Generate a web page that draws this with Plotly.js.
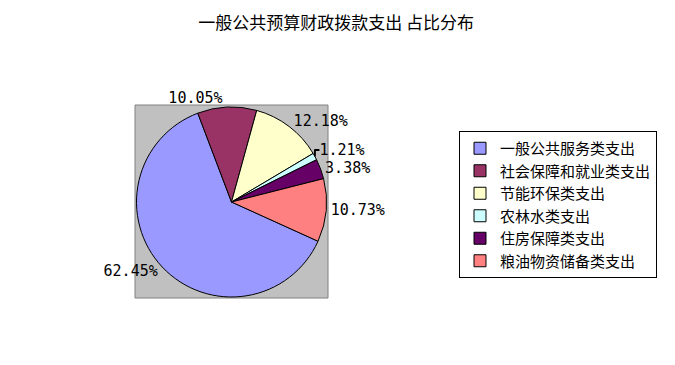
<!DOCTYPE html>
<html>
<head>
<meta charset="utf-8">
<script src="https://cdn.plot.ly/plotly-3.0.1.min.js"></script>
<style>html,body{margin:0;padding:0;background:#fff;}</style>
</head>
<body>
<div id="chart" style="width:675px;height:365px;"></div>
<script>
var categories = ["一般公共服务类支出", "社会保障和就业类支出", "节能环保类支出", "农林水类支出", "住房保障类支出", "粮油物资储备类支出"];
var shares = [62.45, 10.05, 12.18, 1.21, 3.38, 10.73];
var colors = ["#9999FF", "#993366", "#FFFFCC", "#CCFFFF", "#660066", "#FF8080"];
var titleText = "一般公共预算财政拨款支出 占比分布";

var W = 675, H = 365;
var box = {x0: 135, x1: 328, y0: 105, y1: 298};

var trace = {
  type: "pie",
  labels: categories,
  values: shares,
  sort: false,
  direction: "clockwise",
  rotation: 114.4,
  marker: {colors: colors, line: {color: "#000000", width: 1}},
  text: shares.map(function (v) { return v.toFixed(2) + "%"; }),
  texttemplate: "%{text}",
  textposition: "outside",
  outsidetextfont: {family: "DejaVu Sans Mono, monospace", size: 15, color: "#000"},
  hoverinfo: "label+percent",
  domain: {x: [(box.x0 + 1) / W, (box.x1 - 1) / W], y: [1 - (box.y1 - 1) / H, 1 - (box.y0 + 2) / H]},
  automargin: false
};

var layout = {
  width: W, height: H,
  margin: {l: 0, r: 0, t: 0, b: 0},
  paper_bgcolor: "#ffffff",
  font: {family: "Noto Sans CJK SC, sans-serif", color: "#000"},
  title: {text: titleText, font: {size: 17, color: "#000"}, x: 0.498, xanchor: "center", y: 1 - 23 / H, yanchor: "middle"},
  showlegend: true,
  legend: {
    x: 459 / W, y: 1 - 131 / H, xanchor: "left", yanchor: "top",
    bgcolor: "#ffffff", bordercolor: "#000000", borderwidth: 1,
    font: {size: 15, color: "#000"},
    itemwidth: 30,
    traceorder: "normal"
  },
  shapes: [{
    type: "rect", xref: "paper", yref: "paper", layer: "below",
    x0: box.x0 / W, x1: box.x1 / W, y0: 1 - box.y1 / H, y1: 1 - box.y0 / H,
    fillcolor: "#C0C0C0", line: {color: "#808080", width: 1}
  }]
};

Plotly.newPlot("chart", [trace], layout, {displayModeBar: false, staticPlot: true});
</script>
</body>
</html>
